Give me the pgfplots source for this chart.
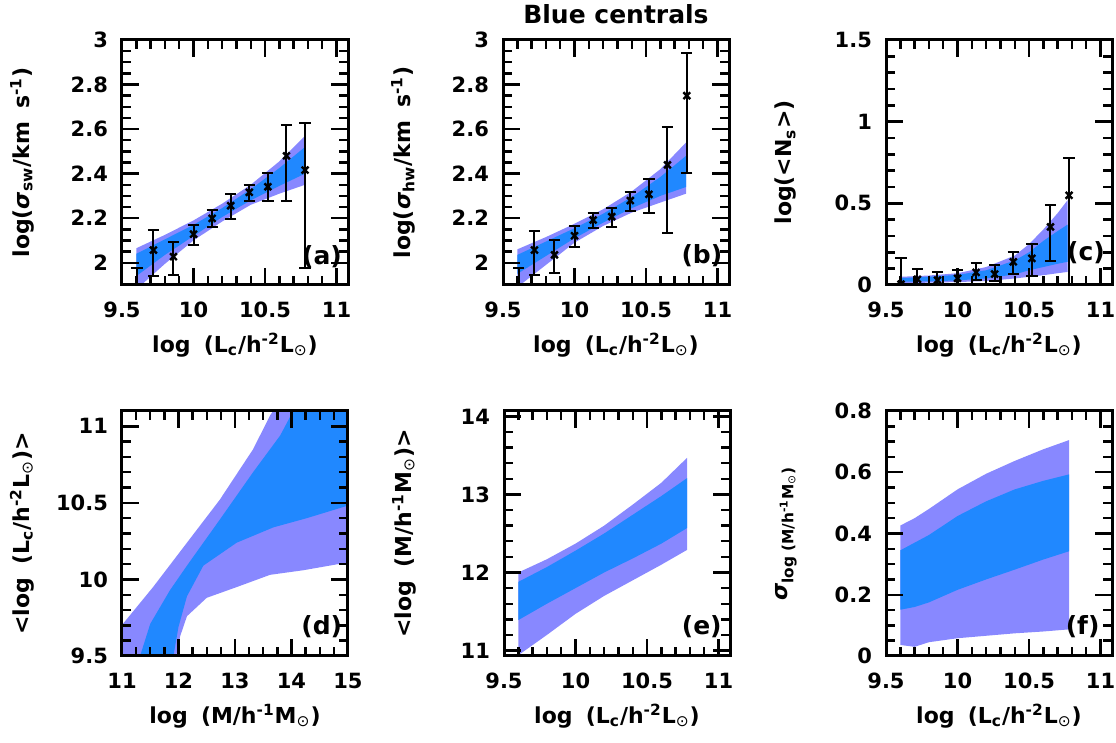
\documentclass[border=0pt]{standalone}
\usepackage{fontspec}
\setmainfont{DejaVu Sans}[UprightFont={* Bold}, ItalicFont={* Bold Oblique}]
\newfontfamily\odotfont{DejaVu Sans}
\newcommand{\sun}{{\odotfont ⊙}}
\usepackage{pgfplots}
\pgfplotsset{compat=1.18}
\definecolor{lav}{RGB}{136,136,255}
\definecolor{blu}{RGB}{32,136,255}
\tikzset{plab/.style={font=\fontsize{12.5}{14}\selectfont}}
\pgfplotsset{
 panel/.style={
  scale only axis, width=113pt, height=122.5pt,
  axis on top,
  axis line style={line width=1.5pt},
  tick pos=both,
  every tick/.style={black, line width=1.2pt},
  major tick length=8.5pt, minor tick length=4.5pt,
  tick align=inside,
  clip marker paths=true,
  /pgf/number format/assume math mode=true,
  tick label style={font=\fontsize{10.5}{12}\selectfont},
  label style={font=\fontsize{11}{13}\selectfont},
  xlabel style={at={(axis description cs:0.5,-0.245)}, anchor=center},
  ylabel style={at={(axis description cs:-0.4425,0.5)}, anchor=center},
  xticklabel style={yshift=-5pt},
  yticklabel style={xshift=-3.5pt},
 },
 toprow/.style={xmin=9.5, xmax=11.08, xtick={9.5,10,10.5,11}, minor x tick num=4,
  xlabel={log\hspace{0.6em}(L\textsubscript{c}/h\textsuperscript{-2}L\textsubscript{\sun})}},
 errs/.style={only marks, mark=x, mark size=2.4pt, black, mark options={line width=1.2pt},
  error bars/.cd, y dir=both, y explicit,
  error bar style={line width=1pt, black},
  error mark options={rotate=90, line width=1pt, mark size=2.8pt, black}},
}
\begin{document}
\begin{tikzpicture}
\path[use as bounding box] (0,0) rectangle (558pt,371.5pt);
% ---------------- (a)
\begin{axis}[panel, toprow, at={(61pt,229pt)}, anchor=south west,
  ymin=1.9, ymax=3.0, ytick={2,2.2,2.4,2.6,2.8,3}, minor y tick num=3,
  ylabel={log(\textit{σ}\textsubscript{sw}/km\hspace{0.6em}s\textsuperscript{-1})}]
\addplot[draw=none, fill=lav] coordinates {(9.6,2.065) (9.8,2.125) (10.0,2.19) (10.2,2.265) (10.4,2.35) (10.6,2.455) (10.78,2.57)
  (10.78,2.35) (10.6,2.31) (10.4,2.26) (10.2,2.185) (10.0,2.10) (9.8,1.995) (9.6,1.88)};
\addplot[draw=none, fill=blu] coordinates {(9.6,2.04) (9.8,2.105) (10.0,2.17) (10.2,2.245) (10.4,2.33) (10.6,2.425) (10.78,2.52)
  (10.78,2.40) (10.6,2.345) (10.4,2.28) (10.2,2.205) (10.0,2.12) (9.8,2.035) (9.6,1.94)};
\addplot[errs] coordinates {
 (9.605,1.88) += (0,0.095) -= (0,0.10)
 (9.72,2.057) += (0,0.09) -= (0,0.115)
 (9.86,2.027) += (0,0.067) -= (0,0.082)
 (10.0,2.128) += (0,0.041) -= (0,0.049)
 (10.13,2.199) += (0,0.038) -= (0,0.037)
 (10.26,2.256) += (0,0.052) -= (0,0.061)
 (10.39,2.316) += (0,0.033) -= (0,0.039)
 (10.52,2.341) += (0,0.06) -= (0,0.064)
 (10.65,2.480) += (0,0.138) -= (0,0.203)
 (10.78,2.416) += (0,0.21) -= (0,0.438)
};
\node[plab] at (rel axis cs:0.885,0.115) {(a)};
\end{axis}
% ---------------- (b)
\begin{axis}[panel, toprow, at={(251.5pt,229pt)}, anchor=south west,
  ymin=1.9, ymax=3.0, ytick={2,2.2,2.4,2.6,2.8,3}, minor y tick num=3,
  ylabel={log(\textit{σ}\textsubscript{hw}/km\hspace{0.6em}s\textsuperscript{-1})},
  title={Blue centrals},
  title style={at={(axis description cs:0.5,1)}, anchor=center, yshift=7pt, font=\fontsize{12.5}{14}\selectfont}]
\addplot[draw=none, fill=lav] coordinates {(9.6,2.06) (9.8,2.115) (10.0,2.175) (10.2,2.24) (10.4,2.32) (10.6,2.42) (10.78,2.54)
  (10.78,2.31) (10.6,2.27) (10.4,2.225) (10.2,2.165) (10.0,2.09) (9.8,1.99) (9.6,1.89)};
\addplot[draw=none, fill=blu] coordinates {(9.6,2.035) (9.8,2.095) (10.0,2.155) (10.2,2.22) (10.4,2.295) (10.6,2.385) (10.78,2.48)
  (10.78,2.34) (10.6,2.30) (10.4,2.245) (10.2,2.18) (10.0,2.11) (9.8,2.03) (9.6,1.95)};
\addplot[errs] coordinates {
 (9.61,1.88) += (0,0.098) -= (0,0.10)
 (9.72,2.057) += (0,0.087) -= (0,0.112)
 (9.86,2.035) += (0,0.067) -= (0,0.083)
 (10.0,2.121) += (0,0.045) -= (0,0.052)
 (10.13,2.192) += (0,0.030) -= (0,0.037)
 (10.26,2.207) += (0,0.037) -= (0,0.048)
 (10.39,2.279) += (0,0.040) -= (0,0.047)
 (10.52,2.307) += (0,0.069) -= (0,0.085)
 (10.65,2.439) += (0,0.172) -= (0,0.307)
 (10.785,2.75) += (0,0.19) -= (0,0.349)
};
\node[plab] at (rel axis cs:0.88,0.12) {(b)};
\end{axis}
% ---------------- (c)
\begin{axis}[panel, toprow, at={(443pt,229pt)}, anchor=south west,
  ymin=0, ymax=1.5, ytick={0,0.5,1,1.5}, minor y tick num=4,
  ylabel={log(<N\textsubscript{s}>)}]
\addplot[draw=none, fill=lav] coordinates {(9.6,0.05) (9.8,0.058) (10.0,0.072) (10.2,0.11) (10.4,0.18) (10.5,0.25) (10.6,0.34) (10.7,0.44) (10.77,0.52)
  (10.77,0.08) (10.7,0.072) (10.6,0.06) (10.5,0.05) (10.4,0.04) (10.2,0.024) (10.0,0.018) (9.8,0.014) (9.6,0.012)};
\addplot[draw=none, fill=blu] coordinates {(9.6,0.042) (9.8,0.05) (10.0,0.062) (10.2,0.09) (10.4,0.15) (10.5,0.20) (10.6,0.27) (10.7,0.33) (10.77,0.37)
  (10.77,0.142) (10.7,0.13) (10.6,0.11) (10.5,0.09) (10.4,0.065) (10.2,0.04) (10.0,0.028) (9.8,0.022) (9.6,0.02)};
\addplot[errs] coordinates {
 (9.605,0.005) += (0,0.158) -= (0,0.05)
 (9.72,0.035) += (0,0.061) -= (0,0.06)
 (9.86,0.030) += (0,0.051) -= (0,0.05)
 (10.0,0.041) += (0,0.05) -= (0,0.045)
 (10.13,0.077) += (0,0.055) -= (0,0.047)
 (10.26,0.067) += (0,0.055) -= (0,0.041)
 (10.39,0.142) += (0,0.057) -= (0,0.077)
 (10.52,0.163) += (0,0.085) -= (0,0.108)
 (10.65,0.356) += (0,0.132) -= (0,0.21)
 (10.78,0.549) += (0,0.231) -= (0,0.6)
};
\node[plab] at (rel axis cs:0.885,0.13) {(c)};
\end{axis}
% ---------------- (d)
\begin{axis}[panel, at={(61pt,43.5pt)}, anchor=south west,
  xmin=11, xmax=15, xtick={11,12,13,14,15}, minor x tick num=3,
  ymin=9.5, ymax=11.1, ytick={9.5,10,10.5,11}, minor y tick num=4,
  xlabel={log\hspace{0.6em}(M/h\textsuperscript{-1}M\textsubscript{\sun})},
  ylabel={<log\hspace{0.6em}(L\textsubscript{c}/h\textsuperscript{-2}L\textsubscript{\sun})>}]
\addplot[draw=none, fill=lav] coordinates {(10.8,9.62) (11.05,9.725) (11.55,9.95) (12.15,10.24) (12.73,10.52) (13.32,10.85) (13.62,11.07) (14.2,11.4) (15.2,11.9)
  (15.2,10.12) (14.98,10.11) (14.21,10.06) (13.62,10.03) (13.03,9.95) (12.5,9.88) (12.15,9.76) (12.03,9.63) (11.96,9.5) (11.94,9.3) (10.8,9.3)};
\addplot[draw=none, fill=blu] coordinates {(11.22,9.38) (11.32,9.5) (11.5,9.71) (11.85,9.93) (12.15,10.09) (12.73,10.39) (13.32,10.70) (13.80,10.94) (14.03,11.1) (14.6,11.4) (15.2,11.6)
  (15.2,10.5) (14.98,10.48) (14.27,10.40) (13.68,10.34) (13.03,10.24) (12.44,10.09) (12.15,9.89) (12.0,9.69) (11.91,9.5) (11.89,9.38)};
\node[plab] at (rel axis cs:0.884,0.12) {(d)};
\end{axis}
% ---------------- (e)
\begin{axis}[panel, toprow, at={(252pt,43.5pt)}, anchor=south west,
  ymin=10.93, ymax=14.07, ytick={11,12,13,14}, minor y tick num=4,
  ylabel={<log\hspace{0.6em}(M/h\textsuperscript{-1}M\textsubscript{\sun})>}]
\addplot[draw=none, fill=lav] coordinates {(9.6,12.0) (9.8,12.17) (10.0,12.37) (10.2,12.6) (10.4,12.87) (10.6,13.15) (10.78,13.47)
  (10.78,12.29) (10.6,12.1) (10.4,11.9) (10.2,11.7) (10.0,11.47) (9.8,11.2) (9.6,10.94)};
\addplot[draw=none, fill=blu] coordinates {(9.6,11.88) (9.8,12.07) (10.0,12.28) (10.2,12.5) (10.4,12.74) (10.6,12.98) (10.78,13.21)
  (10.78,12.57) (10.6,12.37) (10.4,12.18) (10.2,12.0) (10.0,11.8) (9.8,11.6) (9.6,11.39)};
\node[plab] at (rel axis cs:0.875,0.12) {(e)};
\end{axis}
% ---------------- (f)
\begin{axis}[panel, toprow, at={(443pt,43.5pt)}, anchor=south west,
  ymin=0, ymax=0.8, ytick={0,0.2,0.4,0.6,0.8}, minor y tick num=3,
  ylabel={\textit{σ}\textsubscript{log (M/h\textsuperscript{-1}M\textsubscript{\sun})}}]
\addplot[draw=none, fill=lav] coordinates {(9.6,0.426) (9.7,0.45) (9.8,0.48) (10.0,0.544) (10.2,0.595) (10.4,0.637) (10.6,0.675) (10.78,0.705)
  (10.78,0.087) (10.6,0.08) (10.4,0.074) (10.2,0.066) (10.0,0.058) (9.8,0.045) (9.7,0.03) (9.6,0.036)};
\addplot[draw=none, fill=blu] coordinates {(9.6,0.345) (9.7,0.37) (9.8,0.395) (10.0,0.457) (10.2,0.505) (10.4,0.544) (10.6,0.572) (10.78,0.593)
  (10.78,0.342) (10.6,0.315) (10.4,0.282) (10.2,0.25) (10.0,0.216) (9.8,0.175) (9.7,0.16) (9.6,0.151)};
\node[plab] at (rel axis cs:0.87,0.12) {(f)};
\end{axis}
\end{tikzpicture}
\end{document}
